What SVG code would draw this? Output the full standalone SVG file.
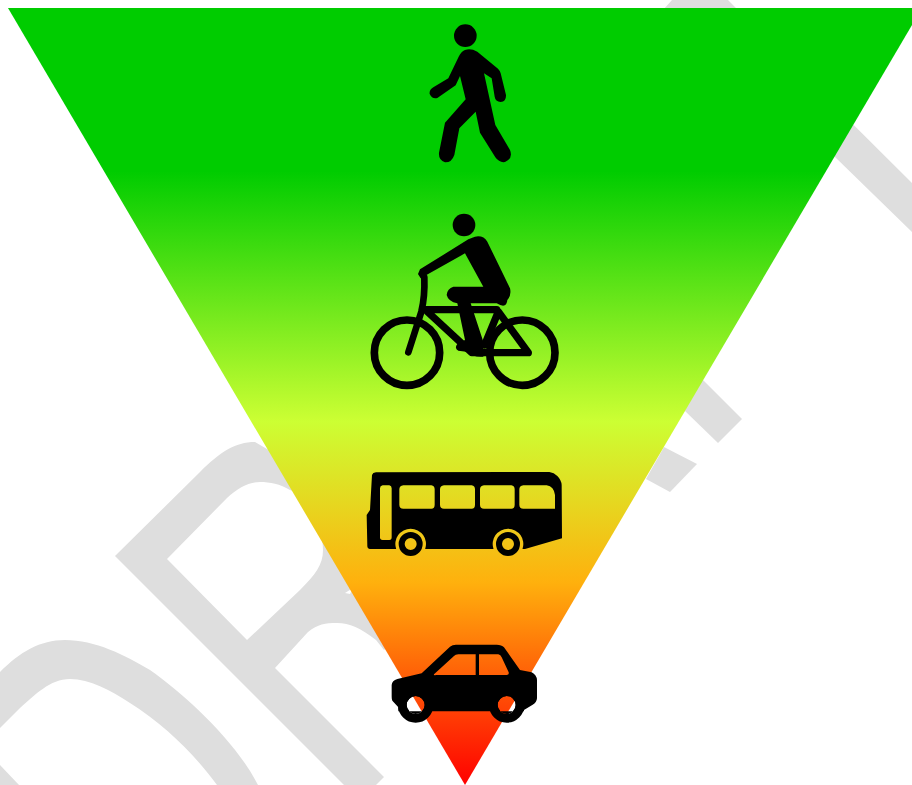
<svg xmlns="http://www.w3.org/2000/svg" width="912" height="785" viewBox="0 0 912 785">
<style>
.wm{fill:#dedede;fill-rule:evenodd}
.ic{fill:#000;fill-rule:evenodd}
.ln{fill:none;stroke:#000;stroke-linecap:round;stroke-linejoin:round}
</style>
<defs>
<linearGradient id="g" gradientUnits="userSpaceOnUse" x1="0" y1="8" x2="0" y2="785">
<stop offset="0" stop-color="#00cc00"/>
<stop offset="0.21" stop-color="#00cc00"/>
<stop offset="0.532" stop-color="#ccff33"/>
<stop offset="0.74" stop-color="#ffb00d"/>
<stop offset="1" stop-color="#ff0000"/>
</linearGradient>
</defs>
<rect width="912" height="785" fill="#fff"/>
<g id="watermark">
<path class="wm" d="M0 672C20 652 40 640 65 640C95 640 125 655 150 670C185 695 235 740 258 785H217C195 755 165 725 130 703C110 690 90 679 70 679C50 679 35 695 20 708L0 728Z"/>
<path class="wm" d="M0 765L19 785H0Z"/>
<path class="wm" d="M115 556L200 472C220 452 235 442 255 442L320 480L440 600L384 650L376 640C360 628 350 623 337 623C325 623 318 624 308 632L275 668L384 777L376 785H344ZM167 559L247 640L300 590C315 575 323 565 323 550C323 525 305 495 290 490C280 484 270 482 260 482C248 482 238 488 227 498Z"/>
<path d="M345 593L353 588L350 594Z" fill="#fff"/>
<path class="wm" d="M663 10L672 0H728L738 10L912 183V232L835 157L800 100L700 30Z"/>
<path class="wm" d="M703 380L742 419L718 443L685 411L690 385Z"/>
<path class="wm" d="M664 447L697 464L670 492L646 479Z"/>
</g>
<path id="funnel" d="M8 8H922L465 785Z" fill="url(#g)"/>
<g id="pedestrian" transform="translate(410 10) scale(.33333)">
<circle class="ic" cx="166" cy="77" r="34"/>
<path class="ic" d="M165 120Q182 114 202 125L264 176Q270 182 272 190L288 255Q289 274 272 276Q256 275 254 260L245 205L222 190L256 345L300 420Q310 445 285 456Q268 459 256 442L210 368L197 305L148 355L133 435Q125 458 105 457Q85 450 87 428L105 338L167 268L150 198L137 226L82 264Q66 268 59 252Q57 240 70 232L115 205L146 140Q153 125 165 120Z"/>
</g>
<g id="cyclist" transform="translate(350 200) scale(.33333)">
<circle class="ic" cx="342" cy="75" r="34"/>
<circle class="ln" cx="171" cy="458" r="98" stroke-width="23"/>
<circle class="ln" cx="517" cy="458" r="98" stroke-width="23"/>
<path class="ic" d="M204 222L212 235L345 160L400 260H310Q292 265 290 285Q295 305 322 310L345 420L322 432Q312 445 325 452L360 457Q365 472 400 470L400 425L362 310H440Q470 328 472 300Q485 285 480 265L412 125Q400 105 375 110L355 118L210 208Z"/>
<path class="ln" d="M223 232Q225 290 214 335L175 457" stroke-width="20" stroke-linecap="butt"/>
<path class="ln" d="M222 329H440M232 335L365 458H535L445 335L404 435" stroke-width="22"/>
</g>
<g id="bus" transform="translate(350 460) scale(.33333)">
<path class="ic" d="M78 37L598 36Q612 38 622 48Q634 60 635 75L636 235L525 267H517.5A46 46 0 1 0 430.5 267H225.5A46 46 0 1 0 138.5 267H60Q52 266 52 258L50 165L60 150L66 45Q68 38 78 37ZM98 76H118Q125 78 125 85V232Q125 240 118 240H98Q90 240 90 232V85Q90 78 98 76ZM160 76H244Q254 78 254 88V134Q254 146 244 146H160Q148 146 148 134V88Q148 78 160 76ZM282 76H365Q375 78 375 88V134Q375 146 365 146H282Q270 146 270 134V88Q270 78 282 76ZM402 76H484Q494 78 494 88V134Q494 146 484 146H402Q390 146 390 134V88Q390 78 402 76ZM520 76H590Q612 80 615 105V146H520Q508 146 508 134V88Q508 78 520 76Z"/>
<circle class="ln" cx="182" cy="252" r="27" stroke-width="18"/>
<circle class="ln" cx="474" cy="252" r="27" stroke-width="18"/>
</g>
<g id="car" transform="translate(380 630) scale(.33333)">
<path class="ic" d="M35 165Q36 152 52 147L125 130L210 50Q217 44 228 44H350Q365 44 372 52L420 120L455 127Q470 135 471 150V205Q470 218 458 224L432 240V244H55V232L37 212Q35 208 35 200ZM162 133L222 78Q226 73 235 73H287V135H168Q160 137 162 133ZM297 73H355Q362 75 365 82L386 127Q388 135 380 135H297ZM134 225A27 27 0 1 0 80 225A27 27 0 1 0 134 225ZM407 225A27 27 0 1 0 353 225A27 27 0 1 0 407 225Z"/>
<circle class="ln" cx="107" cy="225" r="40" stroke-width="26"/>
<circle class="ln" cx="380" cy="225" r="40" stroke-width="26"/>
</g>
</svg>
